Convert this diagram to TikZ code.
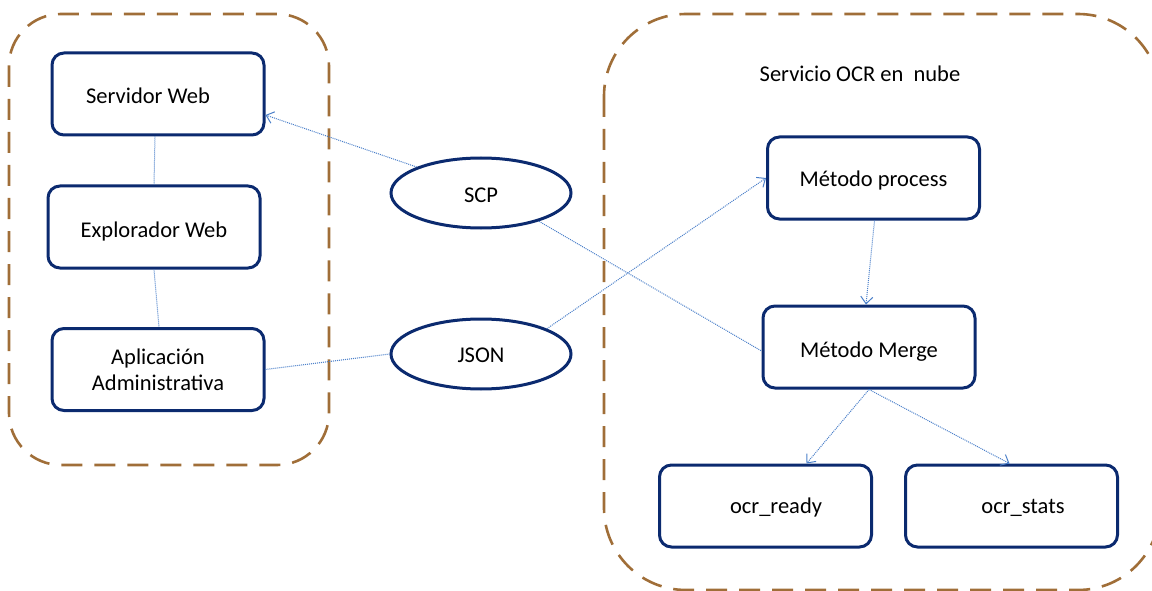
\documentclass[tikz,border=0pt]{standalone}
\usepackage{fontspec}
\setmainfont{Carlito}
\usetikzlibrary{arrows.meta,calc,shapes.geometric}
\definecolor{boxblue}{HTML}{0B2A6F}
\definecolor{linkblue}{HTML}{4A7FC9}
\definecolor{groupbrown}{HTML}{A06E38}
\tikzset{
  x=1pt, y=-1pt,
  lbl/.style={font=\fontsize{22.5}{26}\selectfont},
  % baseline sits #1/2 below the node centre
  bl/.style={text height=#1, text depth=0pt},
  comp/.style={draw=boxblue, line width=3pt, rounded corners=12pt, fill=white,
    minimum width=212pt, minimum height=82pt, align=center, lbl},
  proto/.style={draw=boxblue, line width=3pt, ellipse, fill=white,
    minimum width=180pt, minimum height=70pt, lbl},
  group/.style={draw=groupbrown, line width=2.6pt, dash pattern=on 21pt off 12pt},
  link/.style={draw=linkblue, line width=1pt, dash pattern=on 1pt off 1pt},
  flow/.style={link, -{Straight Barb[length=7pt,width=12pt,line width=1pt]}},
}
\begin{document}
\begin{tikzpicture}
\useasboundingbox (0,0) rectangle (1152,591);

% client-side group and cloud service group
\draw[group, rounded corners=52pt] (9,14) rectangle (329,465);
\draw[group, rounded corners=82pt] (604,14) rectangle (1160,590);

\node[lbl, bl=16pt] (title) at (860,74) {Servicio OCR en\ \ nube};

% client side components
\node[comp, bl=19pt] (sw) at (158,94) {\hspace*{-20pt}Servidor Web};
\node[comp, bl=20pt] (ew) at (154,227) {Explorador Web};
\node[comp] (app) at (158,369.5) {Aplicación\\Administrativa};

% transport protocols
\node[proto, bl=20pt] (scp) at (481,193) {SCP};
\node[proto, bl=16pt] (json) at (481,354) {JSON};

% cloud service components
\node[comp, bl=16pt] (proc) at (873.5,178) {Método process};
\node[comp, bl=20pt] (merge) at (869,347) {Método Merge};
\node[comp, bl=15pt] (ready) at (765.5,506) {\hspace*{21pt}ocr\_ready};
\node[comp, bl=15pt] (stats) at (1011.5,506) {\hspace*{23pt}ocr\_stats};

% connectors
\draw[flow] (scp.158) -- ([yshift=-21pt]sw.east);
\draw[link] ([xshift=-3pt]sw.south) -- (ew.north);
\draw[link] (ew.south) -- ([xshift=1pt]app.north);
\draw[link] (app.east) -- (json.west);
\draw[flow] (json.21) -- (proc.west);
\draw[link] (scp.-26) -- ([yshift=-4pt]merge.west);
\draw[flow] ([xshift=1pt]proc.south) -- ([xshift=-3pt]merge.north);
\draw[flow] (merge.south) -- ([xshift=41pt]ready.north);
\draw[flow] (merge.south) -- ([xshift=-2pt]stats.north);
\end{tikzpicture}
\end{document}
